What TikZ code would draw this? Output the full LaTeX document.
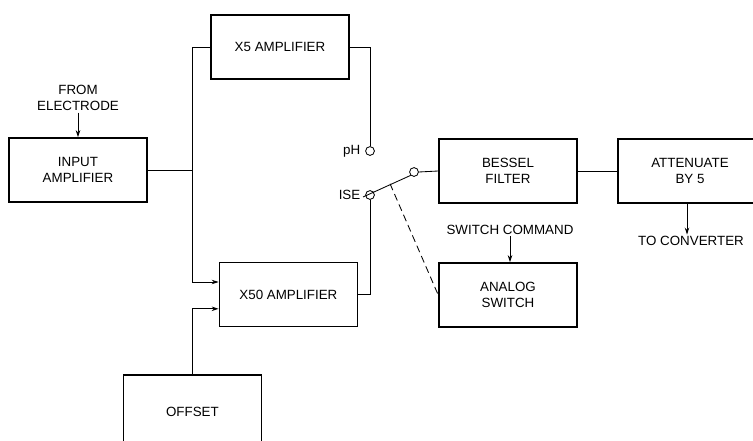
\documentclass[tikz,border=0pt]{standalone}
\usepackage{fontspec}
\setmainfont{Liberation Sans}
\usepackage{tikz}
\usetikzlibrary{positioning,arrows.meta,calc}

\begin{document}
\begin{tikzpicture}[
  font=\fontsize{9.5}{11.6}\selectfont,
  >={Stealth[length=5pt,width=3.2pt]},
  block/.style={draw, line width=1.1pt, minimum width=3.45cm, minimum height=1.6cm, align=center},
  wire/.style={line width=0.6pt},
  arr/.style={->, line width=0.6pt},
  contact/.style={draw, circle, line width=0.6pt, fill=white, inner sep=0pt, minimum size=0.22cm},
  lbl/.style={inner sep=1pt, align=center},
]
\useasboundingbox (0,0) rectangle (18.825,-11);
\clip (0,0) rectangle (18.825,-11);

% Blocks
\node[block] (inamp) at (1.95,-4.25) {INPUT\\AMPLIFIER};
\node[block] (xfive) at (7.0,-1.175) {X5 AMPLIFIER};
\node[block] (xfifty) at (7.21,-7.36) {X50 AMPLIFIER};
\node[block, minimum height=1.85cm] (offset) at (4.81,-10.3) {OFFSET};
\node[block] (bessel) at (12.7,-4.275) {BESSEL\\FILTER};
\node[block, minimum width=3.6cm] (atten) at (17.25,-4.275) {ATTENUATE\\BY 5};
\node[block] (analog) at (12.7,-7.375) {ANALOG\\SWITCH};

% Labels
\node[lbl] (electrode) at (1.95,-2.45) {FROM\\ELECTRODE};
\node[lbl] (cmd) at (12.75,-5.75) {SWITCH COMMAND};
\node[lbl] (conv) at (17.275,-6.025) {TO CONVERTER};

% Switch contacts
\node[contact] (ph) at (9.25,-3.775) {};
\node[contact] (ise) at (9.25,-4.875) {};
\node[contact] (out) at (10.35,-4.3) {};
\node[lbl, left=0.08cm of ph] (phlbl) {pH};
\node[lbl, left=0.08cm of ise] (iselbl) {ISE};
\coordinate (pivot) at (9.075,-4.925);
\coordinate (bus) at (4.8,-4.25);

% Input amplifier fan-out
\draw[wire] (inamp.east) -- (bus);
\draw[wire] (xfive.west) -| (bus);
\draw[arr] (bus) |- ([yshift=0.31cm]xfifty.west);
\draw[arr] (offset.north) |- ([yshift=-0.36cm]xfifty.west);

% Amplifiers to switch
\draw[wire] (xfive.east) -| (ph.north);
\draw[wire] (xfifty.east) -| (ise.south);

% Switch blade and actuator
\draw[wire] (pivot) -- (out.south west);
\draw[wire, dashed, dash pattern=on 5pt off 3pt] ($(pivot)!0.53!(out)$) -- (analog.west);
\draw[arr] (cmd.south) -- (analog.north -| cmd.south);

% Signal path out
\draw[wire] (out.east) -- (bessel.west);
\draw[wire] (bessel.east) -- (atten.west);
\draw[arr] (atten.south -| conv.north) ++(-0.1,0) -- ([xshift=-0.1cm]conv.north);
\draw[arr] (electrode.south) -- (inamp.north);

\end{tikzpicture}
\end{document}
